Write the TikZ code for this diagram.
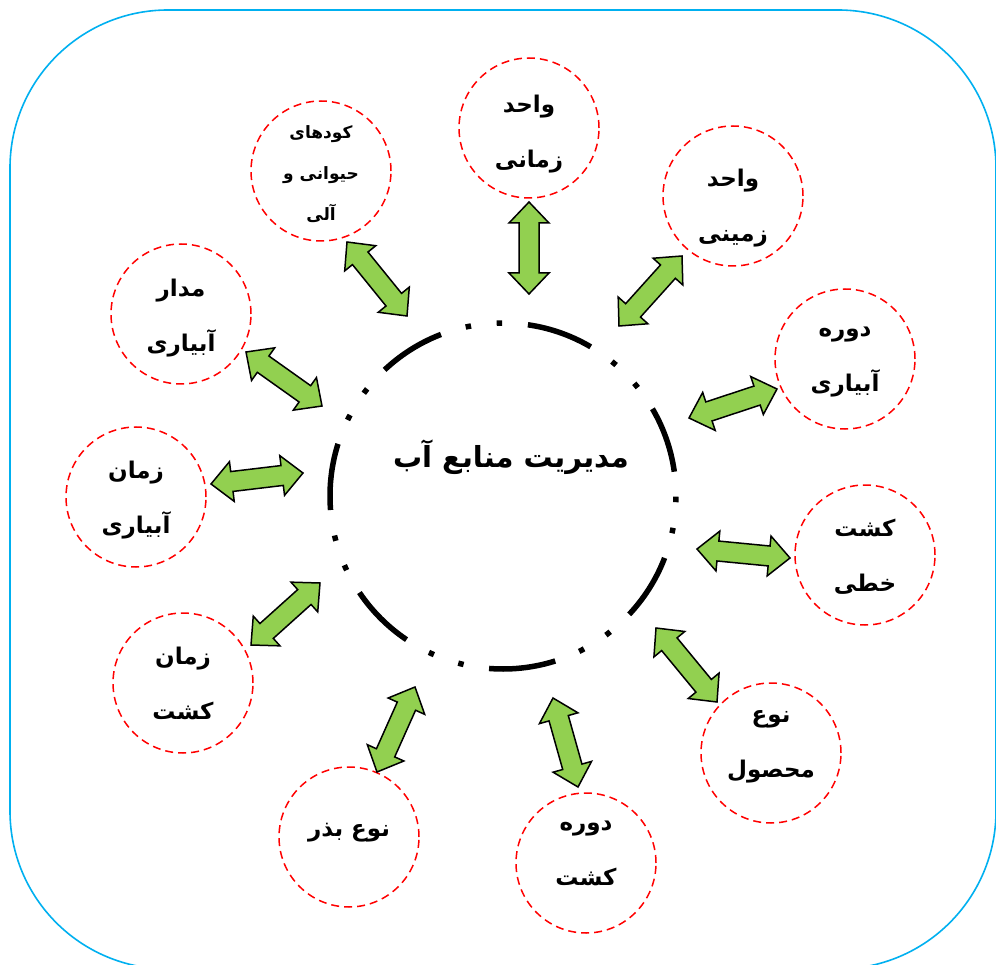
\documentclass[tikz,border=0pt]{standalone}
\usepackage{fontspec}
\usetikzlibrary{calc}
\TeXXeTstate=1
\newfontfamily\fa[Script=Arabic]{DejaVu Sans}
\definecolor{frameblue}{HTML}{00B0F0}
\definecolor{arrowgreen}{HTML}{92D050}
\tikzset{
  sat/.style={circle, draw=red, line width=1.5pt, dash pattern=on 8pt off 5pt, minimum size=140pt, inner sep=0pt},
  sattext/.style={align=center, font=\fa\bfseries\fontsize{23}{55}\selectfont, inner sep=0pt},
  smalltext/.style={align=center, font=\fa\bfseries\fontsize{17}{41}\selectfont, inner sep=0pt},
  dblarrow/.style={fill=arrowgreen, draw=black, line width=1.5pt, line join=miter},
}
\newcommand\dbla[2]{%
  \coordinate (h1) at ($(#1)!21pt!(#2)$);
  \coordinate (h2) at ($(#2)!21pt!(#1)$);
  \filldraw[dblarrow] (#1) -- ($(h1)!20pt!90:(#2)$) -- ($(h1)!10pt!90:(#2)$)
    -- ($(h2)!10pt!-90:(#1)$) -- ($(h2)!20pt!-90:(#1)$) -- (#2)
    -- ($(h2)!20pt!90:(#1)$) -- ($(h2)!10pt!90:(#1)$)
    -- ($(h1)!10pt!-90:(#2)$) -- ($(h1)!20pt!-90:(#2)$) -- cycle;}
\begin{document}
\begin{tikzpicture}[x=1pt,y=-1pt]
\useasboundingbox (0,0) rectangle (996,965);
\clip (0,0) rectangle (996,965);
\fill[white] (0,0) rectangle (996,965);
\draw[frameblue, line width=1.6pt, rounded corners=158pt] (10,10) rectangle (996,969);
% centre
\node[circle, draw, line width=5.5pt, minimum size=346pt, inner sep=0pt,
  dash pattern=on 67pt off 25.8pt on 5.5pt off 25.8pt on 5.5pt off 25.8pt, dash phase=131pt] (c) at (503,496) {};
\node[font=\fa\bfseries\fontsize{29}{34}\selectfont, inner sep=0pt] (ct) at (511,457) {\beginR مدیریت منابع آب\endR};
% satellites
\node[sat] (s1) at (529,128) {};
\node[sattext] (t1) at (529,134) {\beginR واحد\endR\\\beginR زمانی\endR};
\node[sat] (s2) at (733,196) {};
\node[sattext] (t2) at (733,208) {\beginR واحد\endR\\\beginR زمینی\endR};
\node[sat] (s3) at (845,359) {};
\node[sattext] (t3) at (845,362) {\beginR دوره\endR\\\beginR آبیاری\endR};
\node[sat] (s4) at (865,555) {};
\node[sattext] (t4) at (865,557) {\beginR کشت\endR\\\beginR خطی\endR};
\node[sat] (s5) at (771,753) {};
\node[sattext] (t5) at (771,747) {\beginR نوع\endR\\\beginR محصول\endR};
\node[sat] (s6) at (586,863) {};
\node[sattext] (t6) at (586,853) {\beginR دوره\endR\\\beginR کشت\endR};
\node[sat] (s7) at (349,837) {};
\node[sattext] (t7) at (349,833) {\beginR نوع بذر\endR};
\node[sat] (s8) at (183,683) {};
\node[sattext] (t8) at (183,683) {\beginR زمان\endR\\\beginR کشت\endR};
\node[sat] (s9) at (136,497) {};
\node[sattext] (t9) at (136,500) {\beginR زمان\endR\\\beginR آبیاری\endR};
\node[sat] (s10) at (181,314) {};
\node[sattext] (t10) at (181,318) {\beginR مدار\endR\\\beginR آبیاری\endR};
\node[sat] (s11) at (321,171) {};
\node[smalltext] (t11) at (321,174) {\beginR کودهای\endR\\\beginR حیوانی و\endR\\\beginR آلی\endR};
% arrow ends
\coordinate (a1s) at (529,202);  \coordinate (a1e) at (529,294);
\coordinate (a2s) at (682,256);  \coordinate (a2e) at (619,326);
\coordinate (a3s) at (777,389);  \coordinate (a3e) at (689,418);
\coordinate (a4s) at (790,558);  \coordinate (a4e) at (697,549);
\coordinate (a5s) at (717,702);  \coordinate (a5e) at (656,628);
\coordinate (a6s) at (578,787);  \coordinate (a6e) at (553,698);
\coordinate (a7s) at (377,772);  \coordinate (a7e) at (415,687);
\coordinate (a8s) at (251,645);  \coordinate (a8e) at (320,583);
\coordinate (a9s) at (211,484);  \coordinate (a9e) at (303,473);
\coordinate (a10s) at (246,352); \coordinate (a10e) at (322,406);
\coordinate (a11s) at (347,242); \coordinate (a11e) at (407,316);
\dbla{a1s}{a1e}
\dbla{a2s}{a2e}
\dbla{a3s}{a3e}
\dbla{a4s}{a4e}
\dbla{a5s}{a5e}
\dbla{a6s}{a6e}
\dbla{a7s}{a7e}
\dbla{a8s}{a8e}
\dbla{a9s}{a9e}
\dbla{a10s}{a10e}
\dbla{a11s}{a11e}
\end{tikzpicture}
\end{document}
